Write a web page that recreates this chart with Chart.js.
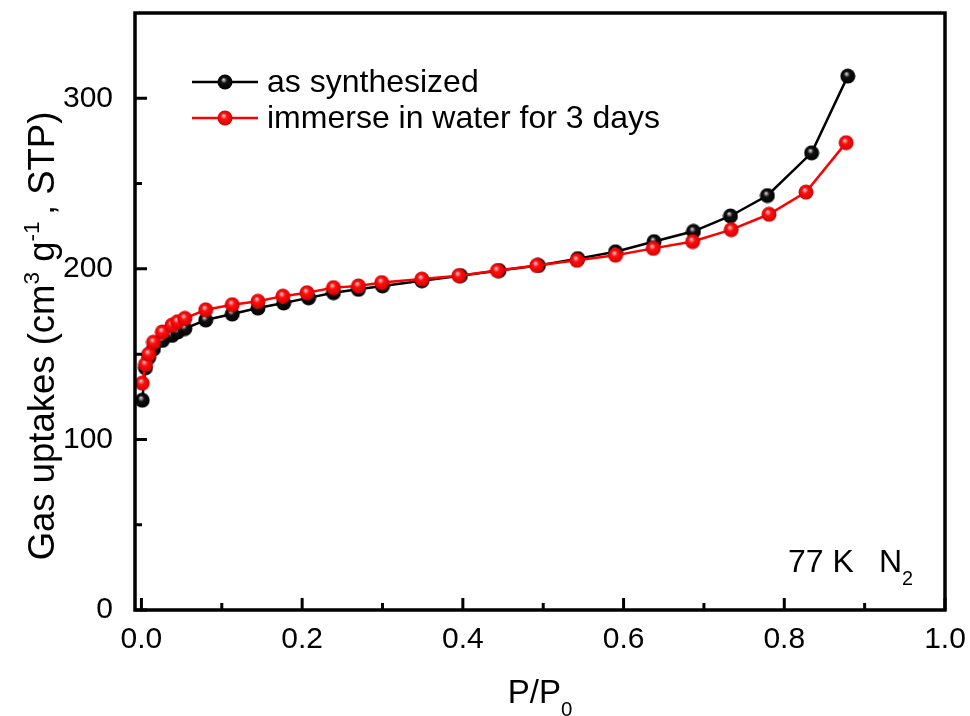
<!DOCTYPE html>
<html>
<head>
<meta charset="utf-8">
<script src="https://cdn.jsdelivr.net/npm/chart.js@4.4.1/dist/chart.umd.min.js"></script>
<style>
  html, body { margin: 0; padding: 0; background: #fff; }
  #wrap { width: 970px; height: 716px; }
</style>
</head>
<body>
<div id="wrap"><canvas id="isotherm" width="970" height="716"></canvas></div>
<script>
// N2 isotherm at 77 K
var pressureAs = [0.001, 0.005, 0.009, 0.015, 0.026, 0.038, 0.045, 0.054, 0.08, 0.113, 0.145, 0.177, 0.208, 0.239, 0.27, 0.30, 0.349, 0.397, 0.445, 0.494, 0.543, 0.59, 0.638, 0.687, 0.733, 0.779, 0.834, 0.879];
var uptakeAs = [123, 142, 148, 153, 158, 161, 163, 165, 170, 173.5, 177, 180, 183, 186, 188, 190, 193, 196, 199, 202, 206, 210, 216, 222, 231, 243, 268, 313];

var pressureWater = [0.001, 0.005, 0.009, 0.015, 0.026, 0.038, 0.045, 0.054, 0.08, 0.113, 0.145, 0.176, 0.206, 0.239, 0.27, 0.299, 0.349, 0.395, 0.443, 0.492, 0.542, 0.59, 0.637, 0.686, 0.734, 0.781, 0.827, 0.877];
var uptakeWater = [133, 144, 150, 157, 163, 167, 169, 171, 176, 179, 181, 184, 186, 189, 190, 192, 194, 196, 199, 202, 205, 208, 212, 216, 223, 232, 245, 274];

var seriesNames = ['as synthesized', 'immerse in water for 3 days'];
var xTicks = [0, 0.2, 0.4, 0.6, 0.8, 1.0];
var xMinor = [0.1, 0.3, 0.5, 0.7, 0.9];
var yTicks = [0, 100, 200, 300];
var yMinor = [50, 150, 250];

var FONT = '"Liberation Sans", Arial, sans-serif';

function toPoints(xs, ys) {
    return xs.map(function (x, i) { return { x: x, y: ys[i] }; });
}

// little shaded ball used as the marker
function makeBall(light, base, dark) {
    var c = document.createElement('canvas');
    c.width = 16; c.height = 16;
    var g = c.getContext('2d');
    var grad = g.createRadialGradient(6.5, 5.5, 0.3, 8, 8, 8);
    grad.addColorStop(0, light);
    grad.addColorStop(0.35, base);
    grad.addColorStop(1, dark);
    g.fillStyle = grad;
    g.beginPath();
    g.arc(8, 8, 7.5, 0, Math.PI * 2);
    g.fill();
    return c;
}

var blackBall = makeBall('#d8d8d8', '#111', '#000');
var redBall = makeBall('#ffd0d0', '#ff1010', '#d00000');

// draw text with sub/superscript pieces
function richText(ctx, parts, x, y, size, align) {
    var w = 0;
    parts.forEach(function (p) {
        ctx.font = (p.s ? size * 0.62 : size) + 'px ' + FONT;
        p.w = ctx.measureText(p.t).width;
        w += p.w;
    });
    var cx = align === 'center' ? x - w / 2 : x;
    parts.forEach(function (p) {
        ctx.font = (p.s ? size * 0.62 : size) + 'px ' + FONT;
        var dy = p.s === 1 ? -size * 0.42 : (p.s === -1 ? size * 0.4 : 0);
        ctx.fillText(p.t, cx, y + dy);
        cx += p.w;
    });
    return w;
}

var decorations = {
    id: 'decorations',
    afterDatasetsDraw: function (chart) {
        var ctx = chart.ctx, a = chart.chartArea;
        var xs = chart.scales.x, ys = chart.scales.y;
        ctx.save();
        ctx.strokeStyle = '#000';
        ctx.fillStyle = '#000';
        ctx.lineWidth = 3.5;
        ctx.strokeRect(a.left, a.top, a.right - a.left, a.bottom - a.top);

        // inward ticks
        ctx.lineWidth = 3;
        ctx.beginPath();
        xTicks.forEach(function (v) { var p = xs.getPixelForValue(v); ctx.moveTo(p, a.bottom); ctx.lineTo(p, a.bottom - 12); });
        xMinor.forEach(function (v) { var p = xs.getPixelForValue(v); ctx.moveTo(p, a.bottom); ctx.lineTo(p, a.bottom - 7); });
        yTicks.forEach(function (v) { var p = ys.getPixelForValue(v); ctx.moveTo(a.left, p); ctx.lineTo(a.left + 12, p); });
        yMinor.forEach(function (v) { var p = ys.getPixelForValue(v); ctx.moveTo(a.left, p); ctx.lineTo(a.left + 7, p); });
        ctx.stroke();

        // legend
        var rows = [{ ds: 0, y: 82 }, { ds: 1, y: 118 }];
        rows.forEach(function (r) {
            var ds = chart.data.datasets[r.ds];
            ctx.strokeStyle = ds.borderColor;
            ctx.lineWidth = 2.5;
            ctx.beginPath();
            ctx.moveTo(192, r.y); ctx.lineTo(258, r.y);
            ctx.stroke();
            ctx.drawImage(ds.pointStyle, 225 - 8, r.y - 8);
            ctx.font = '32px ' + FONT;
            ctx.textBaseline = 'middle';
            ctx.textAlign = 'left';
            ctx.fillText(ds.label, 267, r.y + 1);
        });

        // axis titles and note
        ctx.textBaseline = 'alphabetic';
        ctx.textAlign = 'left';
        richText(ctx, [{ t: '77 K' }], 788, 572, 32, 'left');
        richText(ctx, [{ t: 'N' }, { t: '2', s: -1 }], 879, 572, 32, 'left');
        richText(ctx, [{ t: 'P/P' }, { t: '0', s: -1 }], 540, 703, 33, 'center');

        ctx.translate(54, 336);
        ctx.rotate(-Math.PI / 2);
        richText(ctx, [{ t: 'Gas uptakes (cm' }, { t: '3', s: 1 }, { t: ' g' }, { t: '-1 ', s: 1 }, { t: ', STP)' }], 0, 0, 36.5, 'center');
        ctx.restore();
    }
};

new Chart(document.getElementById('isotherm'), {
    type: 'scatter',
    data: {
        datasets: [{
            label: seriesNames[0],
            data: toPoints(pressureAs, uptakeAs),
            showLine: true,
            borderColor: '#000000',
            borderWidth: 2.5,
            pointStyle: blackBall,
            pointRadius: 7,
            order: 2
        }, {
            label: seriesNames[1],
            data: toPoints(pressureWater, uptakeWater),
            showLine: true,
            borderColor: '#ff0000',
            borderWidth: 2.5,
            pointStyle: redBall,
            pointRadius: 7,
            order: 1
        }]
    },
    options: {
        responsive: false,
        animation: false,
        clip: false,
        layout: { padding: { top: 13, right: 25, left: 0, bottom: 0 } },
        plugins: { legend: { display: false }, tooltip: { enabled: false } },
        scales: {
            x: {
                type: 'linear',
                min: -0.008,
                max: 1.0,
                grid: { display: false },
                border: { display: false },
                afterBuildTicks: function (s) { s.ticks = xTicks.map(function (v) { return { value: v }; }); },
                afterFit: function (s) { s.height = 106; s.paddingLeft = 0; s.paddingRight = 0; },
                ticks: {
                    color: '#000',
                    font: { family: FONT, size: 30 },
                    padding: 4,
                    maxRotation: 0,
                    autoSkip: false,
                    callback: function (v) { return Number(v).toFixed(1); }
                }
            },
            y: {
                min: 0,
                max: 350,
                grid: { display: false },
                border: { display: false },
                afterBuildTicks: function (s) { s.ticks = yTicks.map(function (v) { return { value: v }; }); },
                afterFit: function (s) { s.width = 135; s.paddingTop = 0; s.paddingBottom = 0; },
                ticks: {
                    color: '#000',
                    font: { family: FONT, size: 30 },
                    padding: 14
                }
            }
        }
    },
    plugins: [decorations]
});
</script>
</body>
</html>
